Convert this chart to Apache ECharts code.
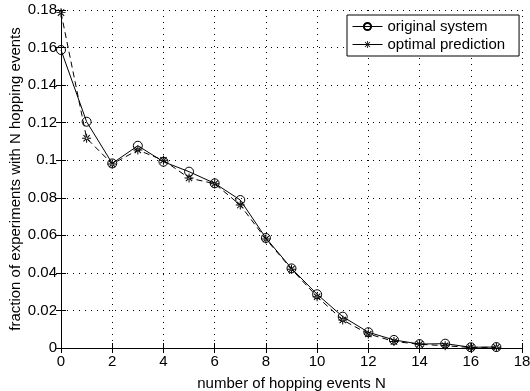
<!DOCTYPE html>
<html><head><meta charset="utf-8">
<script src="https://cdn.jsdelivr.net/npm/echarts@6/dist/echarts.min.js"></script>
<style>html,body{margin:0;padding:0;background:#fff}#c{width:530px;height:391px}</style>
</head><body><div id="c"></div>
<script>
const hops = [0,1,2,3,4,5,6,7,8,9,10,11,12,13,14,15,16,17];
const originalSystem = [0.1587,0.1205,0.0983,0.1077,0.0992,0.0939,0.0877,0.0788,0.0586,0.0424,0.0286,0.0167,0.0084,0.0043,0.0021,0.0023,0.0004,0.0005];
const optimalPrediction = [0.1786,0.1117,0.0980,0.1054,0.1000,0.0905,0.0875,0.0761,0.0580,0.0420,0.0273,0.0149,0.0075,0.0035,0.0020,0.0012,0.0003,0.0004];
const xTickLabels = ['0','2','4','6','8','10','12','14','16','18'];
const yTickLabels = ['0','0.02','0.04','0.06','0.08','0.1','0.12','0.14','0.16','0.18'];

const star = 'path://M-0.55,-5h1.1v10h-1.1z M-5,-0.55h10v1.1h-10z M-3.9,-3.1L3.1,3.9L3.9,3.1L-3.1,-3.9z M-3.1,3.9L3.9,-3.1L3.1,-3.9L-3.9,3.1z';
const font = 'Liberation Sans';
const fs = 15;
const chart = echarts.init(document.getElementById('c'), null, {renderer:'canvas'});
const dotted = {show:true, lineStyle:{color:'#000', width:1, type:[1,5]}};
chart.setOption({
  animation:false,
  backgroundColor:'#fff',
  textStyle:{fontFamily:font, color:'#000'},
  grid:{left:61, right:8, top:10, bottom:43, containLabel:false, outerBoundsMode:'none'},
  xAxis:[{
    type:'value', min:0, max:18, interval:2,
    name:'number of hopping events N', nameLocation:'middle', nameGap:28,
    nameTextStyle:{fontSize:fs, fontFamily:font, color:'#000'},
    axisLine:{lineStyle:{color:'#000', width:1}},
    axisTick:{inside:true, length:5, lineStyle:{color:'#000'}},
    axisLabel:{fontSize:fs, fontFamily:font, color:'#000', margin:6,
      formatter:(v)=>xTickLabels[Math.round(v/2)]},
    splitLine:dotted
  },{
    type:'value', min:0, max:18, interval:2, position:'top',
    axisLine:{lineStyle:{color:'#000', width:1}},
    axisTick:{inside:true, length:5, lineStyle:{color:'#000'}},
    axisLabel:{show:false}, splitLine:{show:false}
  }],
  yAxis:[{
    type:'value', min:0, max:0.18, interval:0.02,
    name:'fraction of experiments with N hopping events', nameLocation:'middle', nameGap:38,
    nameMoveOverlap:false,
    nameTextStyle:{fontSize:fs, fontFamily:font, color:'#000'},
    axisLine:{show:true, lineStyle:{color:'#000', width:1}},
    axisTick:{show:true, inside:true, length:5, lineStyle:{color:'#000'}},
    axisLabel:{fontSize:fs, fontFamily:font, color:'#000', margin:4,
      formatter:(v)=>yTickLabels[Math.round(v/0.02)]},
    splitLine:dotted
  },{
    type:'value', min:0, max:0.18, interval:0.02, position:'right',
    axisLine:{show:true, lineStyle:{color:'#000', width:1}},
    axisTick:{show:true, inside:true, length:5, lineStyle:{color:'#000'}},
    axisLabel:{show:false}, splitLine:{show:false}
  }],
  legend:{
    orient:'vertical', left:347, top:15, padding:[4,14,4,5], itemGap:3,
    itemWidth:30, itemHeight:9, borderColor:'#000', borderWidth:1, backgroundColor:'#fff',
    textStyle:{fontSize:fs, fontFamily:font, color:'#000'},
    data:[
      {name:'original system', lineStyle:{width:1, type:'solid'}},
      {name:'optimal prediction', lineStyle:{width:1, type:'solid'}}
    ]
  },
  series:[{
    name:'original system', type:'line',
    data:hops.map((h,i)=>[h, originalSystem[i]]),
    symbol:'circle', symbolSize:9, showAllSymbol:true,
    lineStyle:{color:'#000', width:1},
    itemStyle:{color:'transparent', borderColor:'#000', borderWidth:1}
  },{
    name:'optimal prediction', type:'line',
    data:hops.map((h,i)=>[h, optimalPrediction[i]]),
    symbol:star, symbolSize:9, symbolKeepAspect:true, showAllSymbol:true,
    lineStyle:{color:'#000', width:1, type:[6,4]},
    itemStyle:{color:'#000', borderWidth:0}
  }]
});
</script></body></html>
